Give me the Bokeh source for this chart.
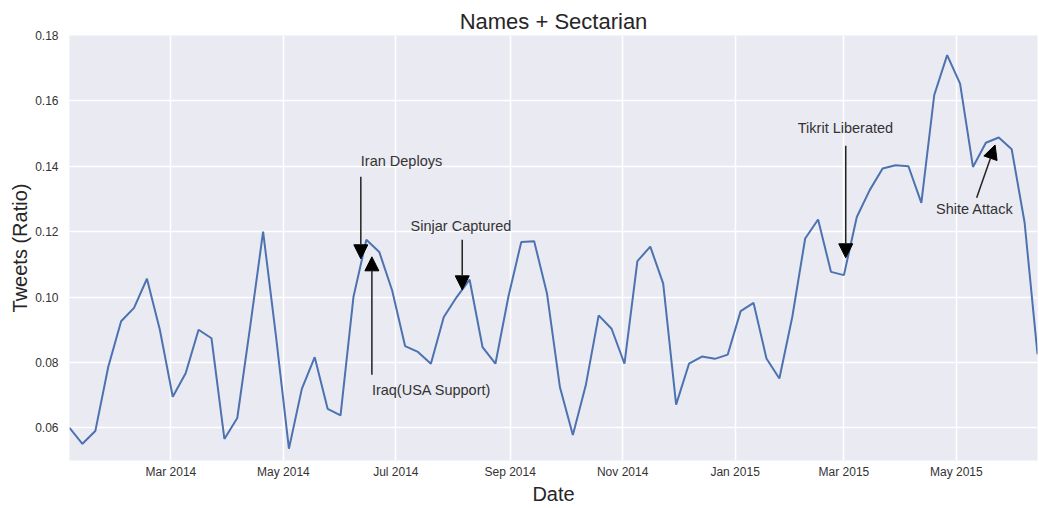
import pandas as pd
from bokeh.plotting import figure
from bokeh.models import (FixedTicker, DatetimeTickFormatter, PrintfTickFormatter,
                          Arrow, NormalHead, Label, Range1d)
from bokeh.embed import file_html
from bokeh.resources import INLINE

# ---- data -------------------------------------------------------------
start_week = "2014-01-05"
tweets_ratio = [
    0.0600, 0.0551, 0.0590, 0.0786, 0.0926, 0.0967, 0.1056, 0.0900, 0.0695, 0.0767,
    0.0900, 0.0874, 0.0566, 0.0630, 0.0910, 0.1200, 0.0880, 0.0536, 0.0719, 0.0816,
    0.0658, 0.0638, 0.1000, 0.1175, 0.1138, 0.1020, 0.0850, 0.0832, 0.0796, 0.0939,
    0.1000, 0.1053, 0.0847, 0.0796, 0.1000, 0.1168, 0.1171, 0.1010, 0.0724, 0.0578,
    0.0730, 0.0944, 0.0903, 0.0796, 0.1110, 0.1154, 0.1041, 0.0671, 0.0796, 0.0818,
    0.0811, 0.0824, 0.0957, 0.0982, 0.0812, 0.0751, 0.0939, 0.1179, 0.1237, 0.1077,
    0.1067, 0.1245, 0.1327, 0.1393, 0.1403, 0.1400, 0.1288, 0.1618, 0.1740, 0.1653,
    0.1398, 0.1472, 0.1488, 0.1452, 0.1228, 0.0825,
]
weeks = pd.date_range(start_week, periods=len(tweets_ratio), freq="7D")

x_tick_dates = ["2014-03-01", "2014-05-01", "2014-07-01", "2014-09-01", "2014-11-01",
                "2015-01-01", "2015-03-01", "2015-05-01"]
y_tick_values = [0.06, 0.08, 0.10, 0.12, 0.14, 0.16, 0.18]

title_text = "Names + Sectarian"
x_label = "Date"
y_label = "Tweets (Ratio)"

# annotations (event label, text anchor, arrow start, arrow tip)
ann_labels = ["Iran Deploys", "Iraq(USA Support)", "Sinjar Captured", "Tikrit Liberated", "Shite Attack"]
ann_text_date = ["2014-06-12", "2014-06-18", "2014-07-09", "2015-02-04", "2015-04-20"]
ann_text_value = [0.1416, 0.0715, 0.1218, 0.1518, 0.1270]
arrow_from_date = ["2014-06-12", "2014-06-18", "2014-08-06", "2015-03-02", "2015-05-12"]
arrow_from_value = [0.1368, 0.0762, 0.1175, 0.1463, 0.1304]
arrow_to_date = ["2014-06-12", "2014-06-18", "2014-08-06", "2015-03-02", "2015-05-22"]
arrow_to_value = [0.1117, 0.1123, 0.1022, 0.1120, 0.1465]


def ms(d):
    return pd.Timestamp(d).value / 1e6


FONT = "Liberation Sans"
Y0, Y1 = 0.05, 0.18

p = figure(width=1039, height=508, x_axis_type="datetime",
           output_backend="svg", toolbar_location=None,
           x_range=Range1d(ms(weeks[0]), ms(weeks[-1])),
           y_range=Range1d(Y0, Y1),
           min_border_left=69, min_border_right=2, min_border_top=35, min_border_bottom=48)

p.background_fill_color = "#EAEAF2"
p.border_fill_color = "white"
p.outline_line_color = None

# title
p.title.text = title_text
p.title.align = "center"
p.title.text_font = FONT
p.title.text_font_size = "22px"
p.title.text_font_style = "normal"
p.title.text_color = "#262626"
p.title.standoff = 3
p.title.offset = 0

# axes
xt = FixedTicker(ticks=[ms(d) for d in x_tick_dates])
p.xaxis.ticker = xt
p.xgrid.ticker = xt
fmt = "%b %Y"
p.xaxis.formatter = DatetimeTickFormatter(days=fmt, months=fmt, years=fmt)
yt = FixedTicker(ticks=y_tick_values)
p.yaxis.ticker = yt
p.ygrid.ticker = yt
p.yaxis.formatter = PrintfTickFormatter(format="%.2f")

for ax in (p.xaxis[0], p.yaxis[0]):
    ax.axis_line_color = None
    ax.major_tick_line_color = None
    ax.minor_tick_line_color = None
    ax.major_tick_out = 0
    ax.major_tick_in = 0
    ax.minor_tick_out = 0
    ax.major_label_text_font = FONT
    ax.major_label_text_font_size = "12px"
    ax.major_label_text_color = "#333333"
    ax.axis_label_text_font = FONT
    ax.axis_label_text_font_size = "20px"
    ax.axis_label_text_font_style = "normal"
    ax.axis_label_text_color = "#262626"

p.xaxis.axis_label = x_label
p.yaxis.axis_label = y_label
p.xaxis.major_label_standoff = 4
p.xaxis.axis_label_standoff = 1
p.yaxis.major_label_standoff = 11
p.yaxis.axis_label_standoff = 1

p.xgrid.grid_line_color = "white"
p.ygrid.grid_line_color = "white"
p.xgrid.grid_line_width = 1.5
p.ygrid.grid_line_width = 1.5

p.line(weeks, tweets_ratio, line_color="#4C72B0", line_width=2)

for lab, td, tv, fd, fv, ed, ev in zip(ann_labels, ann_text_date, ann_text_value,
                                       arrow_from_date, arrow_from_value,
                                       arrow_to_date, arrow_to_value):
    p.add_layout(Arrow(x_start=ms(fd), y_start=fv, x_end=ms(ed), y_end=ev,
                       line_color="#222222", line_width=1.5,
                       end=NormalHead(size=14, fill_color="black", line_color="black", line_width=1)))
    p.add_layout(Label(x=ms(td), y=tv, text=lab, text_font=FONT, text_font_size="14.5px",
                       text_color="#333333", text_align="left", text_baseline="alphabetic"))

open("out.html", "w").write(file_html(p, INLINE))
